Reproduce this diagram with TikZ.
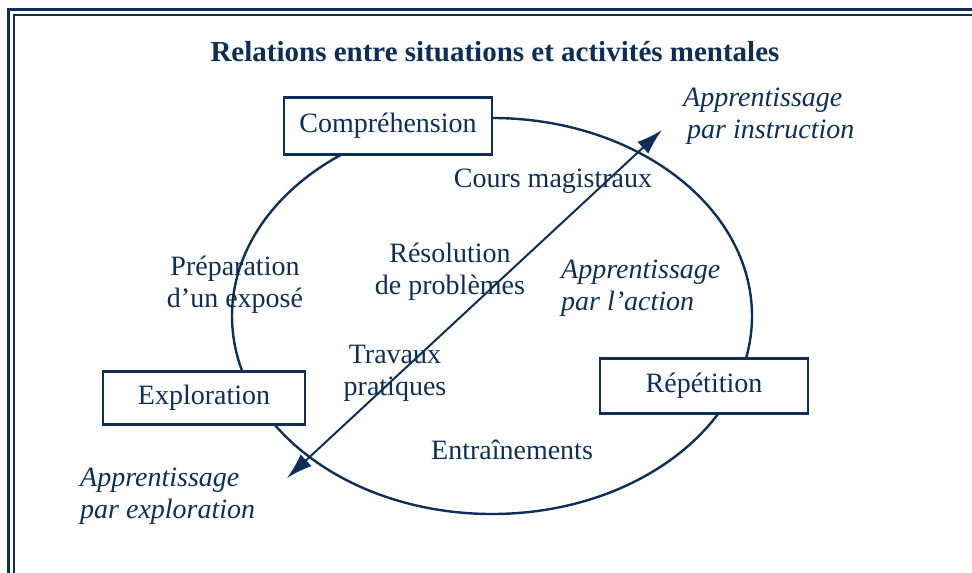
\documentclass[tikz,border=0pt]{standalone}
\usepackage{fontspec}
\setmainfont{Liberation Serif}
\usetikzlibrary{arrows.meta}
\definecolor{navy}{RGB}{14,46,90}
\begin{document}
\begin{tikzpicture}[x=1pt,y=-1pt,
  lbl/.style={text=navy, font=\fontsize{28}{32}\selectfont, align=center, inner sep=0pt},
  ital/.style={text=navy, font=\fontsize{28}{32}\selectfont\itshape, align=left, inner sep=0pt, anchor=west},
  box/.style={draw=navy, line width=2.4pt, fill=white, text=navy, font=\fontsize{28}{32}\selectfont, inner sep=0pt},
  frame/.style={draw=navy}]
\useasboundingbox (0,0) rectangle (972,573);
\draw[frame, line width=3.2pt] (8.5,9.5) rectangle (1000,620);
\draw[frame, line width=2.2pt] (14,15) rectangle (1000,620);
\node[text=navy, font=\fontsize{29}{34}\selectfont\bfseries, inner sep=0pt] (title) at (495,52) {Relations entre situations et activités mentales};
\coordinate (c) at (492,316);
\draw[navy, line width=2.4pt] (c) ellipse [x radius=260, y radius=198];
\node[box, minimum width=208pt, minimum height=57pt] (comp) at (388,126) {Compréhension};
\node[box, minimum width=202pt, minimum height=53pt] (expl) at (204,398) {Exploration};
\node[box, minimum width=208pt, minimum height=55pt] (rep) at (704,386) {Répétition};
\node[lbl] (cours) at (553,181) {Cours magistraux};
\node[lbl] (reso) at (450,272) {Résolution\\de problèmes};
\node[lbl] (prep) at (235,285) {Préparation\\d'un exposé};
\node[lbl] (trav) at (395,373) {Travaux\\pratiques};
\node[lbl] (entr) at (512,450) {Entraînements};
\node[ital] (ainst) at (683,116) {Apprentissage\\\hspace*{4pt}par instruction};
\node[ital] (aact) at (561,288) {Apprentissage\\par l'action};
\node[ital] (aexp) at (80,496) {Apprentissage\\par exploration};
\coordinate (ae) at (287,478);
\coordinate (ai) at (662,130);
\draw[navy, line width=2pt, {Latex[length=26pt,width=16pt]}-{Latex[length=26pt,width=16pt]}] (ae) -- (ai);
\end{tikzpicture}
\end{document}
